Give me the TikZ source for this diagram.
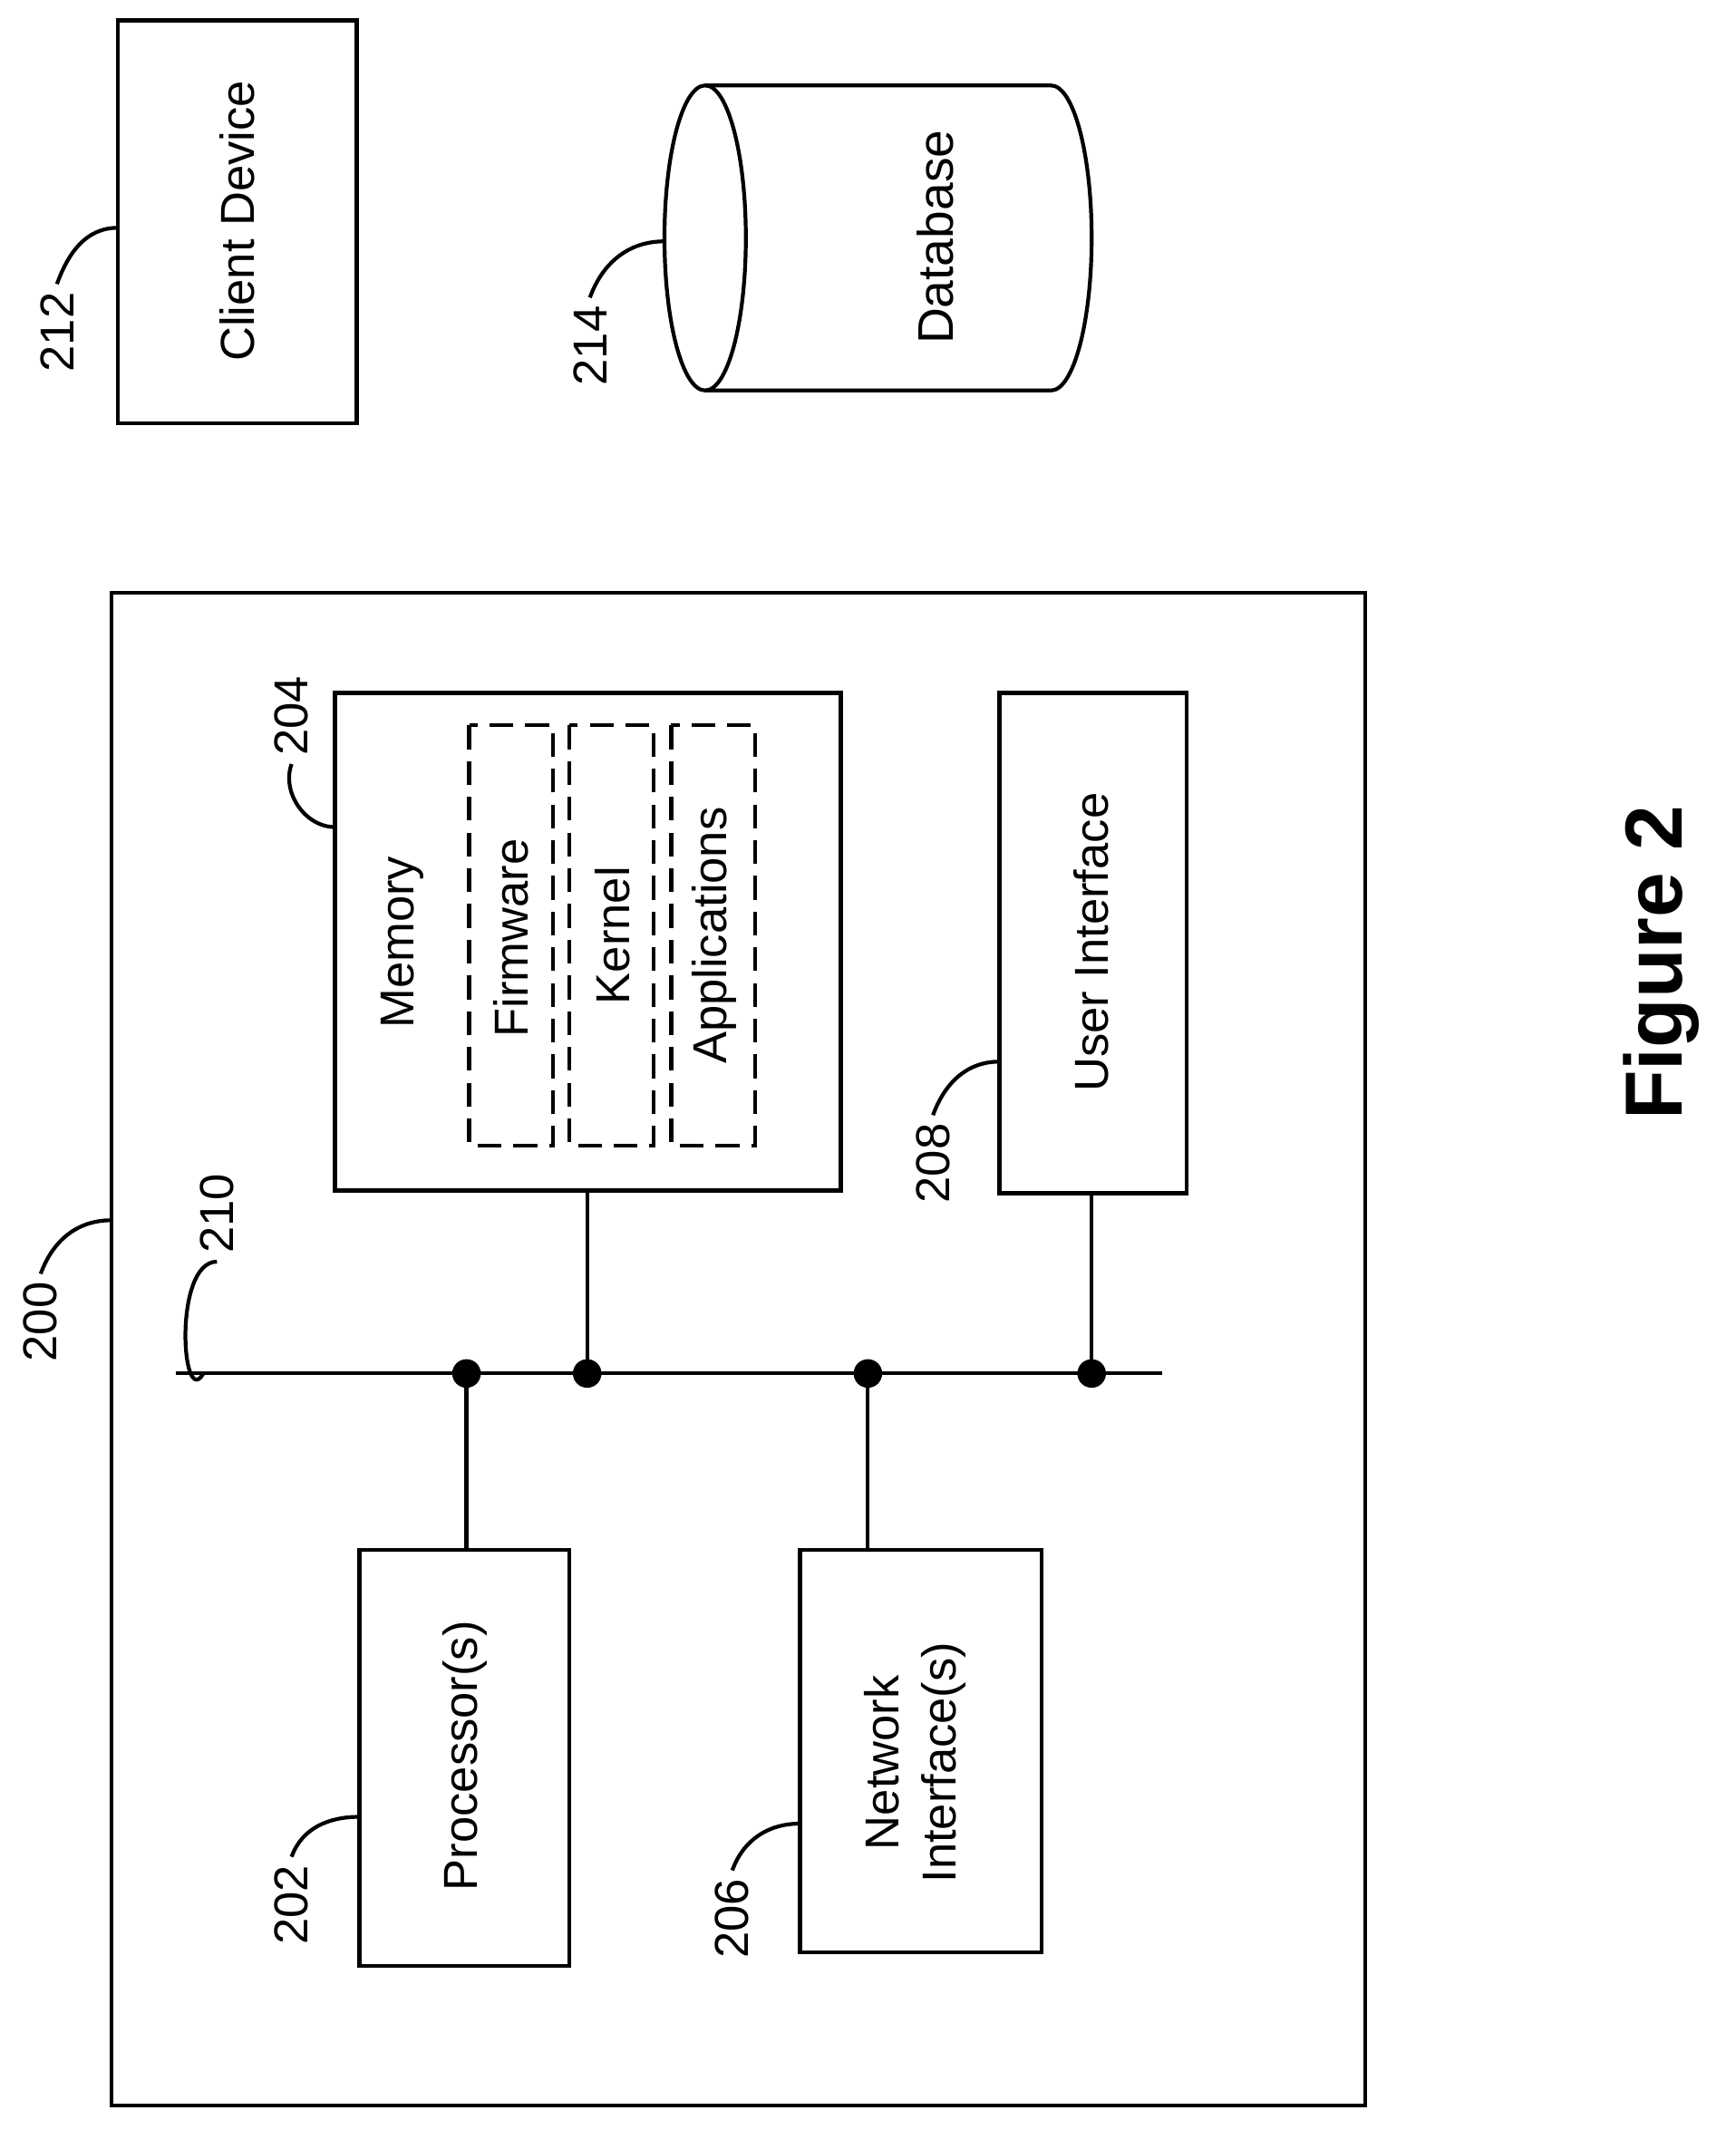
\documentclass[tikz,border=0pt]{standalone}
\usepackage{fontspec}
\setmainfont{Liberation Sans}
\usetikzlibrary{shapes.geometric}
\begin{document}
\begin{tikzpicture}[x=0.02cm,y=-0.02cm,
  box/.style={draw,line width=1.6pt},
  dbox/.style={draw,line width=1.6pt,dash pattern=on 10pt off 5pt},
  txt/.style={rotate=90,font=\fontsize{20}{24}\selectfont,align=center},
  lead/.style={line width=1.6pt},
  dot/.style={circle,fill,inner sep=0pt,minimum size=12pt}]
\useasboundingbox (0,0) rectangle (1280,1585);
% client
\draw[box] (87,15) rectangle (263,312);
\node[txt] (cd) at (175,163) {Client Device};
\node[txt] (l212) at (42,245) {212};
\coordinate (c212) at (87,168);
\draw[lead] (l212.east) to[out=70,in=180] (c212);
% database
\draw[box] (520,63) -- (775,63) arc[start angle=90,end angle=-90,x radius=30,y radius=-112.5] -- (520,288);
\draw[box] (520,175.5) ellipse[x radius=30,y radius=112.5];
\node[txt,font=\fontsize{21}{24}\selectfont] (db) at (690,175) {Database};
\node[txt] (l214) at (435,255) {214};
\coordinate (c214) at (490,178);
\draw[lead] (l214.east) to[out=70,in=180] (c214);
% outer
\draw[box] (82,437) rectangle (1007,1553);
\node[txt] (l200) at (30,975) {200};
\coordinate (c200) at (82,900);
\draw[lead] (l200.east) to[out=70,in=180] (c200);
% memory
\draw[box] (247,511) rectangle (620,878);
\node[txt] (mem) at (297,695) {Memory};
\draw[dbox] (346,535) rectangle (408,845);
\draw[dbox] (420,535) rectangle (482,845);
\draw[dbox] (495,535) rectangle (557,845);
\node[txt] (fw) at (377,692) {Firmware};
\node[txt] (kn) at (452,690) {Kernel};
\node[txt] (ap) at (527,690) {Applications};
\node[txt] (l204) at (215,528) {204};
\coordinate (c204) at (247,610);
\draw[lead] (l204.west) to[out=-110,in=180] (c204);
% UI
\draw[box] (737,511) rectangle (875,880);
\node[txt] (ui) at (805,695) {User Interface};
\node[txt] (l208) at (688,858) {208};
\coordinate (c208) at (737,783);
\draw[lead] (l208.east) to[out=70,in=180] (c208);
% bus
\coordinate (b0) at (130,1013); \coordinate (b1) at (857,1013);
\draw[lead] (b0) -- (b1);
\node[dot] (d1) at (344,1013) {};
\node[dot] (d2) at (433,1013) {};
\node[dot] (d3) at (640,1013) {};
\node[dot] (d4) at (805,1013) {};
\node[txt] (l210) at (160,895) {210};
\coordinate (c210) at (150,1013);
\draw[lead] (c210) to[out=-120,in=180] (l210.west);
% processor
\draw[box] (265,1143) rectangle (420,1450);
\node[txt] (pr) at (343,1295) {Processor(s)};
\node[txt] (l202) at (215,1405) {202};
\coordinate (c202) at (265,1340);
\draw[lead] (l202.east) to[out=70,in=180] (c202);
% network
\draw[box] (590,1143) rectangle (768,1440);
\node[txt] (ni) at (675,1300) {Network\\Interface(s)};
\node[txt] (l206) at (540,1415) {206};
\coordinate (c206) at (590,1345);
\draw[lead] (l206.east) to[out=70,in=180] (c206);
% connectors
\draw[lead] (d1.center) -- (344,1143);
\draw[lead] (d2.center) -- (433,878);
\draw[lead] (d3.center) -- (640,1143);
\draw[lead] (d4.center) -- (805,880);
\node[rotate=90,font=\fontsize{34}{40}\selectfont\bfseries] (fig) at (1225,710) {Figure 2};
\end{tikzpicture}
\end{document}
